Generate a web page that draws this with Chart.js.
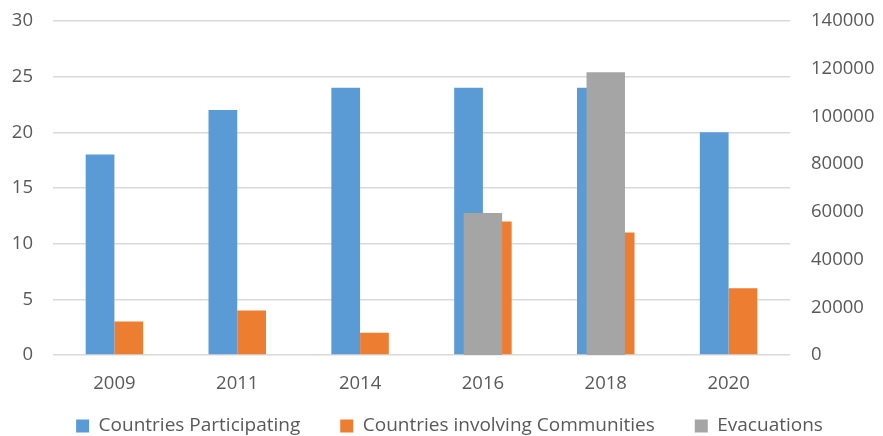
<!DOCTYPE html>
<html>
<head>
<meta charset="utf-8">
<script src="https://cdn.jsdelivr.net/npm/chart.js@4/dist/chart.umd.min.js"></script>
<style>
html,body{margin:0;padding:0;background:#fff;}
#wrap{width:883px;height:436px;position:relative;}
</style>
</head>
<body>
<div id="wrap"><canvas id="c" width="883" height="436"></canvas></div>
<script>
const years = ['2009','2011','2014','2016','2018','2020'];
const countriesParticipating = [18, 22, 24, 24, 24, 20];
const countriesCommunities = [3, 4, 2, 12, 11, 6];
const evacuations = [null, null, null, 59500, 118500, null];

const tickColor = '#595959';
const gridColor = '#D9D9D9';
const fontFamily = "'Open Sans', 'Noto Sans', sans-serif";

// keeps the bottom legend compact while keeping wide spacing between its items
const legendFitPlugin = {
  id: 'legendFit',
  beforeLayout(chart) {
    const lg = chart.legend;
    if (lg && !lg._fitPatched) {
      const orig = lg.fit.bind(lg);
      lg.fit = function () { orig(); this.height = 41; };
      lg._fitPatched = true;
    }
  },
  afterLayout(chart) {
    const lg = chart.legend;
    if (lg) {
      lg.left += 8; lg.right += 8;
      lg.top = 376.5; lg.bottom = 436;
    }
  }
};

new Chart(document.getElementById('c'), {
  type: 'bar',
  data: {
    labels: years,
    datasets: [
      {
        label: 'Countries Participating',
        data: countriesParticipating,
        backgroundColor: '#5B9BD5',
        yAxisID: 'y',
        categoryPercentage: 0.468,
        barPercentage: 1.0,
        stack: 'a',
        order: 1
      },
      {
        label: 'Countries involving Communities',
        data: countriesCommunities,
        backgroundColor: '#ED7D31',
        yAxisID: 'y',
        categoryPercentage: 0.468,
        barPercentage: 1.0,
        stack: 'b',
        order: 1
      },
      {
        label: 'Evacuations',
        data: evacuations,
        backgroundColor: '#A5A5A5',
        yAxisID: 'y2',
        grouped: false,
        categoryPercentage: 1.0,
        barPercentage: 0.313,
        order: 0
      }
    ]
  },
  plugins: [legendFitPlugin],
  options: {
    responsive: false,
    animation: false,
    devicePixelRatio: 1,
    layout: { padding: { top: 21, left: 0, right: 0, bottom: 0 } },
    plugins: {
      legend: {
        position: 'bottom',
        labels: {
          color: tickColor,
          font: { family: fontFamily, size: 19 },
          boxWidth: 13,
          boxHeight: 13,
          padding: 40,
          sort: (a, b) => a.datasetIndex - b.datasetIndex
        }
      },
      tooltip: { enabled: false }
    },
    scales: {
      x: {
        grid: { display: false, drawTicks: false },
        border: { display: false },
        ticks: { color: tickColor, font: { family: fontFamily, size: 18.5 }, padding: 18 },
        afterFit: (s) => { s.height = 40; }
      },
      y: {
        position: 'left',
        min: 0, max: 30,
        ticks: { stepSize: 5, color: tickColor, font: { family: fontFamily, size: 18.5 }, padding: 20 },
        grid: { color: gridColor, lineWidth: 1.5, drawTicks: false },
        border: { display: false },
        afterFit: (s) => { s.width = 53; s.paddingTop = 0; s.paddingBottom = 0; }
      },
      y2: {
        position: 'right',
        min: 0, max: 140000,
        ticks: { stepSize: 20000, color: tickColor, font: { family: fontFamily, size: 18.5 }, padding: 21,
                 callback: (v) => String(v) },
        grid: { display: false, drawTicks: false },
        border: { display: false },
        afterFit: (s) => { s.width = 93; s.paddingTop = 0; s.paddingBottom = 0; }
      }
    }
  }
});
</script>
</body>
</html>
